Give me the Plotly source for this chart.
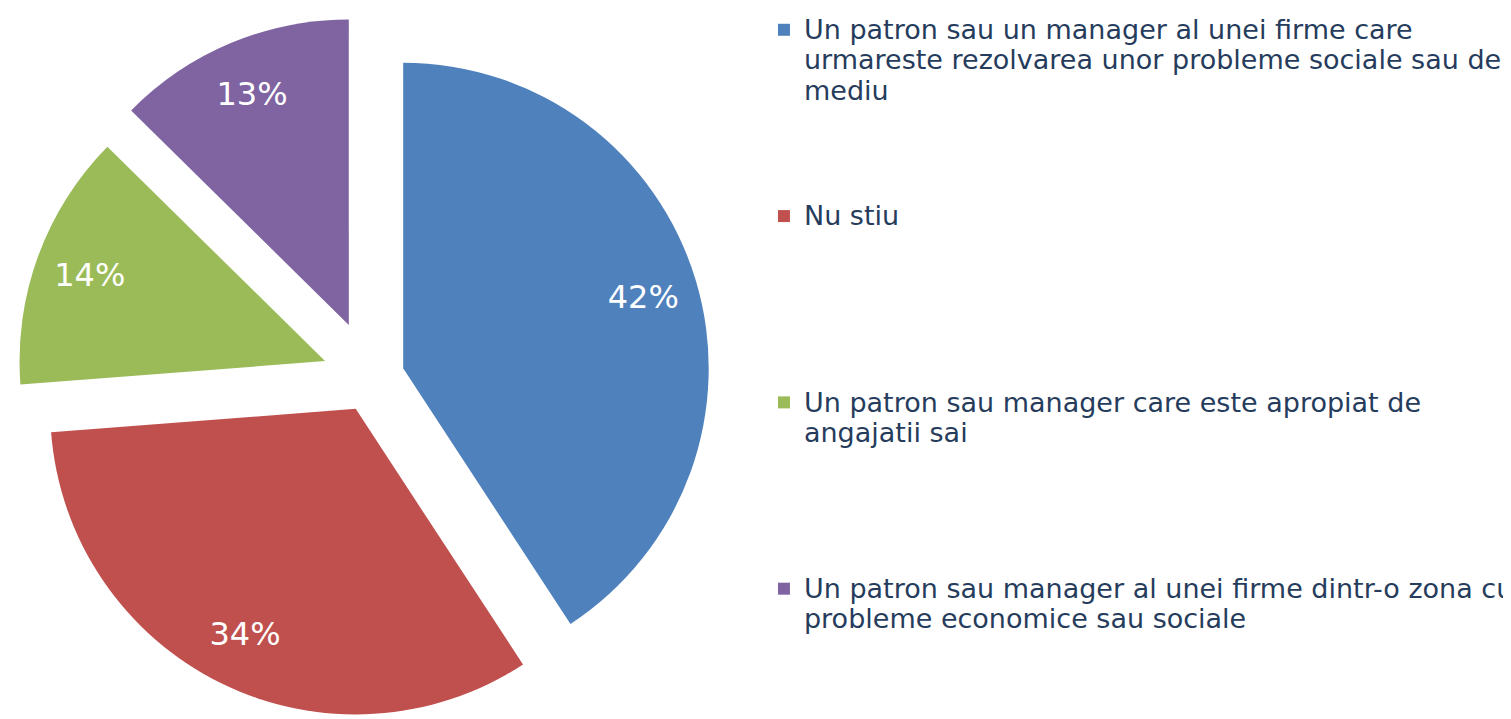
import plotly.graph_objects as go

# Data
labels = [
    "Un patron sau un manager al unei firme care<br>urmareste rezolvarea unor probleme sociale sau de<br>mediu",
    "Nu stiu",
    "Un patron sau manager care este apropiat de<br>angajatii sai",
    "Un patron sau manager al unei firme dintr-o zona cu<br>probleme economice sau sociale",
]
values = [42, 34, 14, 13]
colors = ["#4F81BD", "#C0504D", "#9BBB59", "#8064A2"]
pulls = [0.11, 0.113, 0.16, 0.188]

# legend text: larger glyphs on a tighter line grid, entries padded to an even rhythm
slot_lines = 6
legend_text = []
for i, lab in enumerate(labels):
    lines = lab.split("<br>")
    styled = "<br>".join("<span style='font-size:27px'>%s</span>" % ln for ln in lines)
    pad = (slot_lines - len(lines)) if i < len(labels) - 1 else 0
    legend_text.append(styled + "<br>&nbsp;" * pad)

W, H = 1511, 737
pie_domain = dict(x=[0, 0.4859], y=[0, 0.9962])

fig = go.Figure()
# coloured slices
fig.add_trace(
    go.Pie(
        labels=legend_text,
        values=values,
        sort=False,
        direction="clockwise",
        rotation=0,
        pull=pulls,
        marker=dict(colors=colors, line=dict(width=0)),
        textinfo="none",
        domain=pie_domain,
        hoverinfo="label+value",
    )
)
# percentage labels placed in the outer band of each slice
fig.add_trace(
    go.Pie(
        labels=legend_text,
        values=values,
        sort=False,
        direction="clockwise",
        rotation=0,
        pull=pulls,
        hole=0.64,
        marker=dict(colors=["rgba(0,0,0,0)"] * len(values), line=dict(width=0)),
        texttemplate="%{value}%",
        textposition="inside",
        insidetextorientation="horizontal",
        textfont=dict(family="DejaVu Sans", size=32, color="white"),
        domain=pie_domain,
        showlegend=False,
        hoverinfo="skip",
    )
)

fig.update_layout(
    width=W,
    height=H,
    margin=dict(l=0, r=0, t=0, b=0),
    paper_bgcolor="white",
    plot_bgcolor="white",
    font=dict(family="DejaVu Sans", color="#263C5C"),
    showlegend=True,
    legend=dict(
        x=0.506,
        y=1,
        xanchor="left",
        yanchor="top",
        valign="top",
        font=dict(family="DejaVu Sans", size=23.5, color="#263C5C"),
        bgcolor="rgba(0,0,0,0)",
        traceorder="normal",
    ),
)

fig.write_html("out.html")
